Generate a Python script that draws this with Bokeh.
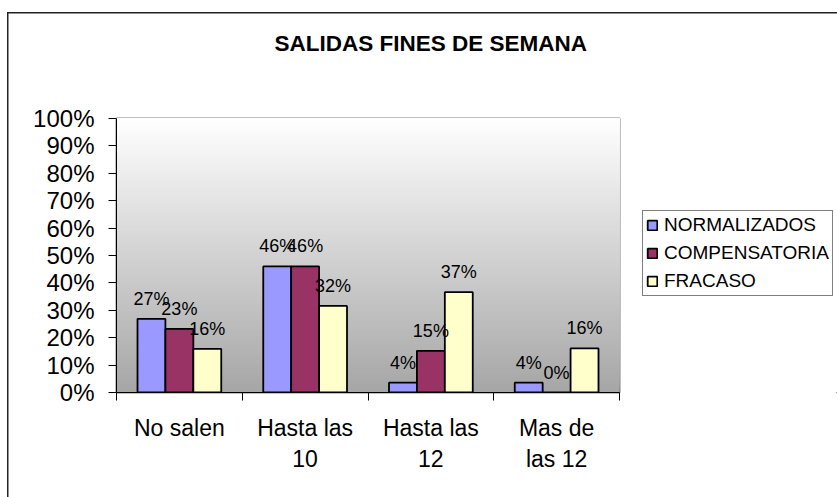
from bokeh.plotting import figure
from bokeh.layouts import row
from bokeh.models import (ColumnDataSource, FactorRange, Range1d, LinearAxis, CategoricalAxis, Title,
                          FixedTicker, NumeralTickFormatter, BoxAnnotation, LabelSet, Legend, LegendItem)
from bokeh.transform import dodge
from bokeh.core.properties import value
from bokeh.embed import file_html
from bokeh.resources import INLINE

# ---------------- data ----------------
title_text = "SALIDAS FINES DE SEMANA"
categories = ["No salen", "Hasta las\n10", "Hasta las\n12", "Mas de\nlas 12"]
series_names = ["NORMALIZADOS", "COMPENSATORIA", "FRACASO"]
normalizados = [0.269, 0.46, 0.036, 0.036]
compensatoria = [0.232, 0.46, 0.152, 0.0]
fracaso = [0.159, 0.316, 0.366, 0.161]
y_ticks = [0.0, 0.1, 0.2, 0.3, 0.4, 0.5, 0.6, 0.7, 0.8, 0.9, 1.0]

# ---------------- style ----------------
colors = ["#9999FF", "#993366", "#FFFFCC"]
offsets = [-0.222, 0.0, 0.222]
bar_w = 0.222
FONT = "Liberation Sans"

p = figure(width=630, height=497, output_backend="svg", toolbar_location=None, title=None,
           x_range=FactorRange(factors=categories, range_padding=0),
           y_range=Range1d(0, 1), x_axis_location=None)
p.min_border_left = 116
p.min_border_right = 11
p.min_border_top = 118
p.min_border_bottom = 105
p.background_fill_color = "white"
p.border_fill_alpha = 0
p.outline_line_color = "#808080"
p.outline_line_width = 2
p.grid.visible = False

# gradient background of plot area (white top -> gray bottom)
n_bands = 120
for i in range(n_bands):
    f = i / n_bands
    g = int(round(166 + (255 - 166) * f))
    p.add_layout(BoxAnnotation(bottom=f, top=1.0, fill_color="#%02x%02x%02x" % (g, g, g),
                               fill_alpha=1.0, line_color=None, level="underlay"))

# title: spacer next to the frame, real title above it
spacer = Title(text=" ", text_font_size="1px", standoff=59)
p.add_layout(spacer, "above")
main_title = Title(text=title_text, text_font=FONT, text_font_size="22.5px", text_font_style="bold",
                   text_color="black", align="left", offset=158, vertical_align="middle", standoff=0)
p.add_layout(main_title, "above")

# bars + labels
renderers = []
for name, vals, col, off in zip(series_names, [normalizados, compensatoria, fracaso], colors, offsets):
    src = ColumnDataSource(dict(cat=categories, val=vals, lbl=["%.0f%%" % (v * 100) for v in vals]))
    r = p.vbar(x=dodge("cat", off, range=p.x_range), top="val", width=bar_w, source=src,
               fill_color=col, line_color="black", line_width=1.8)
    renderers.append(r)
    p.add_layout(LabelSet(x=dodge("cat", off, range=p.x_range), y="val", text="lbl", source=src,
                          text_align="center", text_baseline="alphabetic", y_offset=14,
                          text_font=value(FONT), text_font_size="18px", text_color="black"))

# y axis
yax = p.yaxis[0]
yax.ticker = FixedTicker(ticks=y_ticks)
yax.formatter = NumeralTickFormatter(format="0%")
yax.major_label_text_font = FONT
yax.major_label_text_font_size = "24px"
yax.major_label_text_color = "black"
yax.major_tick_out = 8
yax.major_tick_in = 0
yax.minor_tick_line_color = None
yax.axis_line_color = "black"
yax.major_tick_line_color = "black"
yax.major_label_standoff = 14

# x axis: boundary ticks (between categories) + category labels
edges = list(range(len(categories) + 1))
edge_axis = LinearAxis(ticker=FixedTicker(ticks=edges),
                       major_label_overrides={e: "" for e in edges},
                       major_tick_out=8, major_tick_in=0,
                       minor_tick_line_color=None, axis_line_color="black",
                       major_tick_line_color="black", major_label_standoff=0)
p.add_layout(edge_axis, "below")
cat_axis = CategoricalAxis(axis_line_color=None, major_tick_line_color=None, major_tick_out=0,
                           major_tick_in=0, major_label_standoff=14,
                           major_label_text_font=FONT, major_label_text_font_size="23px",
                           major_label_text_color="black", major_label_text_line_height=1.2)
p.add_layout(cat_axis, "below")

# legend panel (to the right of the plot area); its frame is aligned with the plot's frame
q = figure(width=207, height=497, output_backend="svg", toolbar_location=None, title=None,
           x_range=Range1d(0, 1), y_range=Range1d(1, 2), x_axis_location=None, y_axis_location=None,
           min_border=0)
q.outline_line_color = None
q.grid.visible = False
q.background_fill_alpha = 0
q.border_fill_alpha = 0
# legend swatches: one-point proxies lying far outside the visible range (never seen in the panel)
proxies = [q.vbar(x=[50.0], top=[-50.0], bottom=[-50.0], width=0.1, fill_color=c,
                  line_color="black", line_width=1.8) for c in colors]
legend = Legend(items=[LegendItem(label=n, renderers=[r]) for n, r in zip(series_names, proxies)],
                location=(12, 96), orientation="vertical", padding=3, spacing=6, margin=0,
                glyph_width=12, glyph_height=12, label_height=20, label_standoff=6,
                label_text_font=FONT, label_text_font_size="19px", label_text_color="black",
                border_line_color="black", border_line_width=1,
                background_fill_color="white", background_fill_alpha=1.0)
q.add_layout(legend, "center")

layout = row(p, q)
# outer chart border: top and left edges only
layout.styles = {"background": "linear-gradient(#222,#222) 7px 12px / 1.5px 600px no-repeat, "
                               "linear-gradient(#222,#222) 7px 12px / 900px 1.5px no-repeat, #ffffff"}

open("out.html", "w").write(file_html(layout, INLINE))
